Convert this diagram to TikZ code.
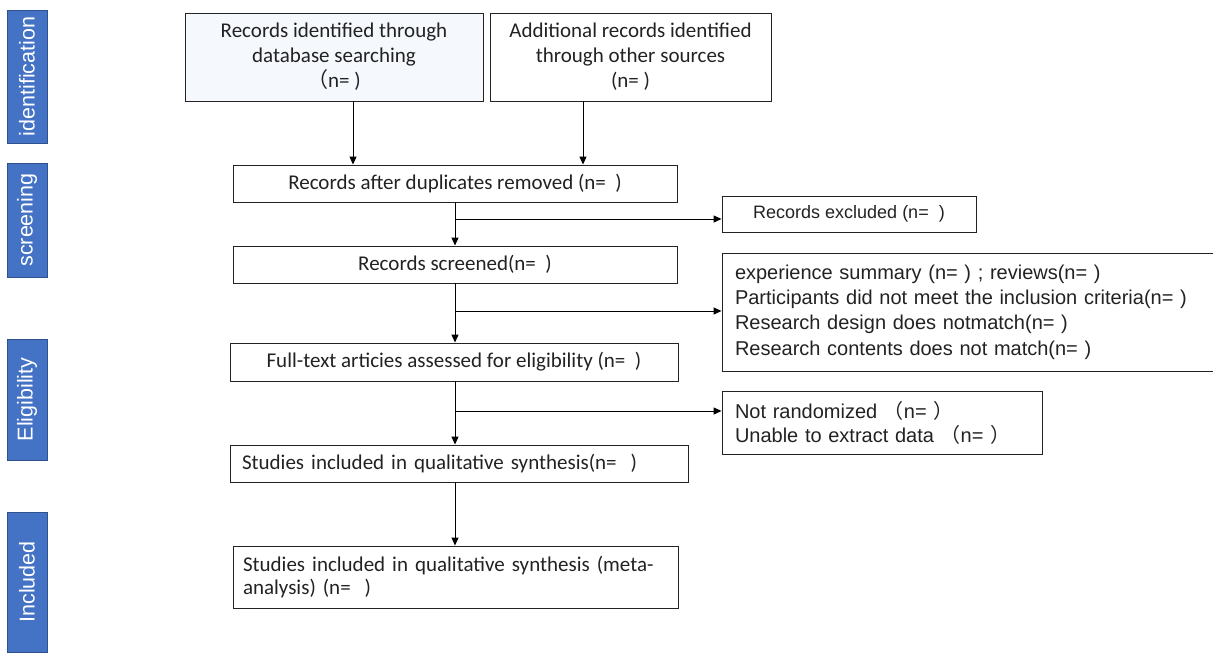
\documentclass[tikz,border=0pt]{standalone}
\usepackage{fontspec}
\setmainfont{Carlito}
\newfontfamily\arialf{Liberation Sans}
\newfontfamily\cjk{Noto Sans CJK SC}
\usetikzlibrary{arrows.meta}
\definecolor{sidefill}{HTML}{4472C4}
\definecolor{sideline}{HTML}{2F528F}
\definecolor{pale}{HTML}{F5F8FC}
\definecolor{ink}{HTML}{222222}
\newcommand{\fl}{{\cjk （}}
\newcommand{\fr}{{\cjk ）}}
\tikzset{
  side/.style={draw=sideline, line width=0.8pt, fill=sidefill, text=white, rotate=90,
    font=\arialf\fontsize{21.5}{24}\selectfont, inner sep=0pt},
  fbox/.style={draw=ink, line width=0.9pt, text=ink, inner sep=3pt,
    font=\fontsize{21}{25}\selectfont, align=center},
  abox/.style={draw=ink, line width=0.9pt, text=ink, inner sep=3pt,
    font=\arialf\fontsize{20}{25.3}\selectfont, align=left},
  arr/.style={draw=black, line width=1pt, -{Triangle[length=8pt,width=7pt]}}
}
\begin{document}
\begin{tikzpicture}[x=1pt,y=-1pt]
\useasboundingbox (0,0) rectangle (1213,656);
% sidebars
\node[side, minimum width=133, minimum height=40] (s1) at (27,76.5) {identification};
\node[side, minimum width=114, minimum height=40] (s2) at (27,220) {screening};
\node[side, minimum width=121, minimum height=40] (s3) at (27,399.5) {Eligibility};
\node[side, minimum width=140, minimum height=40] (s4) at (27,582) {Included};
% top boxes
\node[fbox, fill=pale, minimum width=298, minimum height=88] (b1) at (334,57)
  {Records identified through\\database searching\\\fl n= )};
\node[fbox, minimum width=281, minimum height=88] (b2) at (630.5,57)
  {Additional records identified\\through other sources\\(n= )};
% main chain
\node[fbox, minimum width=444, minimum height=37] (dup) at (455,183.5) {Records after duplicates removed (n=\ \ )};
\node[fbox, minimum width=444, minimum height=37] (scr) at (455,264.5) {Records screened(n=\ \ )};
\node[fbox, minimum width=448, minimum height=38] (full) at (454,362) {Full-text articies assessed for eligibility (n=\ \ )};
\node[fbox, minimum width=458, minimum height=37, text width=434, align=left] (stud) at (459,463.5) {Studies included in qualitative synthesis(n=\ \ )};
\node[fbox, minimum width=445, minimum height=62, text width=425, align=left,
  font=\fontsize{21}{23}\selectfont] (meta) at (455.5,577) {Studies included in qualitative synthesis (meta-\\analysis) (n=\ \ )};
% exclusion boxes
\node[abox, minimum width=254, minimum height=36, align=center, font=\arialf\fontsize{18}{22}\selectfont] (excl) at (849,214) {Records excluded (n=\ \ )};
\node[abox, minimum width=493, minimum height=118, text width=467] (reas) at (968.5,312)
  {experience summary (n= ) ; reviews(n= )\\Participants did not meet the inclusion criteria(n= )\\Research design does notmatch(n= )\\Research contents does not match(n= )};
\node[abox, minimum width=320, minimum height=63, text width=294, font=\arialf\fontsize{20}{24}\selectfont] (notr) at (882,422.5)
  {Not randomized \fl n= \fr\\Unable to extract data \fl n= \fr};
% connectors
\coordinate (c1) at (353,0);
\coordinate (c2) at (583,0);
\coordinate (cm) at (455,0);
\draw[arr] (b1.south -| c1) -- (dup.north -| c1);
\draw[arr] (b2.south -| c2) -- (dup.north -| c2);
\draw[arr] (dup.south -| cm) -- (scr.north -| cm);
\draw[arr] (scr.south -| cm) -- (full.north -| cm);
\draw[arr] (full.south -| cm) -- (stud.north -| cm);
\draw[arr] (stud.south -| cm) -- (meta.north -| cm);
\coordinate (j1) at (455,219);
\coordinate (j2) at (455,311);
\coordinate (j3) at (455,411);
\draw[arr] (j1) -- (j1 -| excl.west);
\draw[arr] (j2) -- (j2 -| reas.west);
\draw[arr] (j3) -- (j3 -| notr.west);
\end{tikzpicture}
\end{document}
